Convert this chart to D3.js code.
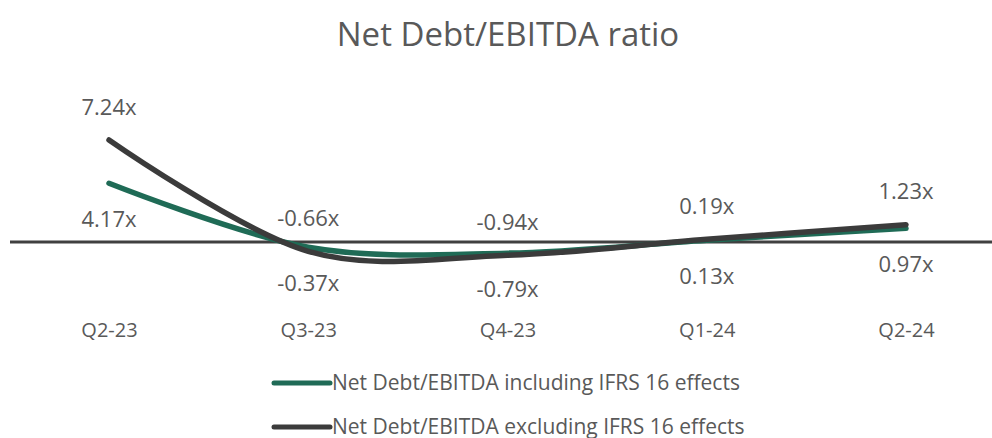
<!DOCTYPE html>
<meta charset="utf-8">
<style>
  body { margin: 0; background: #fff; font-family: "Open Sans", sans-serif; }
  svg text { fill: #595959; }
  .title { font-size: 33px; }
  .lbl { font-size: 22px; }
  .x.axis text { font-size: 20px; }
  .legend text { font-size: 21px; }
</style>
<body>
<div id="chart"></div>
<script src="https://d3js.org/d3.v7.min.js"></script>
<script>
// chart values
var quarters = ["Q2-23", "Q3-23", "Q4-23", "Q1-24", "Q2-24"];
var inclIFRS = [4.17, -0.37, -0.79, 0.13, 0.97];
var exclIFRS = [7.24, -0.66, -0.94, 0.19, 1.23];
var seriesNames = ["Net Debt/EBITDA including IFRS 16 effects",
                   "Net Debt/EBITDA excluding IFRS 16 effects"];

var width = 992, height = 438;

var svg = d3.select("#chart").append("svg")
  .attr("width", width)
  .attr("height", height);

// scales
var x = d3.scalePoint()
  .domain(quarters)
  .range([109, 906]);

var y = d3.scaleLinear()
  .domain([0, 7.24])
  .range([242, 140]);

// title
svg.append("text")
  .attr("class", "title")
  .attr("x", 508)
  .attr("y", 46)
  .attr("text-anchor", "middle")
  .text("Net Debt/EBITDA ratio");

// zero line
svg.append("line")
  .attr("x1", 10)
  .attr("x2", width)
  .attr("y1", y(0))
  .attr("y2", y(0))
  .style("stroke", "#404040")
  .style("stroke-width", 3);

// category labels
var xAxis = d3.axisBottom(x).tickSize(0).tickPadding(0);
svg.append("g")
  .attr("class", "x axis")
  .attr("transform", "translate(0,337)")
  .call(xAxis)
  .call(function(g) { g.select(".domain").remove(); })
  .selectAll("text")
  .attr("dy", 0)
  .style("font-family", "Open Sans, sans-serif");

var line = d3.line()
  .x(function(d, i) { return x(quarters[i]); })
  .y(function(d) { return y(d); })
  .curve(d3.curveCardinal.tension(0));

var series = [
  {values: inclIFRS, color: "#1f6b56", offset: 36},
  {values: exclIFRS, color: "#3b3b3b", offset: -33}
];

series.forEach(function(s) {
  svg.append("path")
    .datum(s.values)
    .attr("d", line)
    .style("fill", "none")
    .style("stroke", s.color)
    .style("stroke-width", 5.5)
    .style("stroke-linecap", "round");
});

// data labels
series.forEach(function(s) {
  svg.selectAll(null)
    .data(s.values)
    .enter()
    .append("text")
    .attr("class", "lbl")
    .attr("x", function(d, i) { return x(quarters[i]); })
    .attr("y", function(d) { return y(d) + s.offset; })
    .attr("dy", "0.35em")
    .attr("text-anchor", "middle")
    .text(function(d) { return d.toFixed(2) + "x"; });
});

// legend
var legend = svg.append("g").attr("class", "legend");
series.forEach(function(s, i) {
  var ly = 383 + i * 44;
  legend.append("line")
    .attr("x1", 274).attr("x2", 330)
    .attr("y1", ly).attr("y2", ly)
    .style("stroke", s.color)
    .style("stroke-width", 5)
    .style("stroke-linecap", "round");
  legend.append("text")
    .attr("x", 332)
    .attr("y", ly + 7)
    .text(seriesNames[i]);
});
</script>
</body>
